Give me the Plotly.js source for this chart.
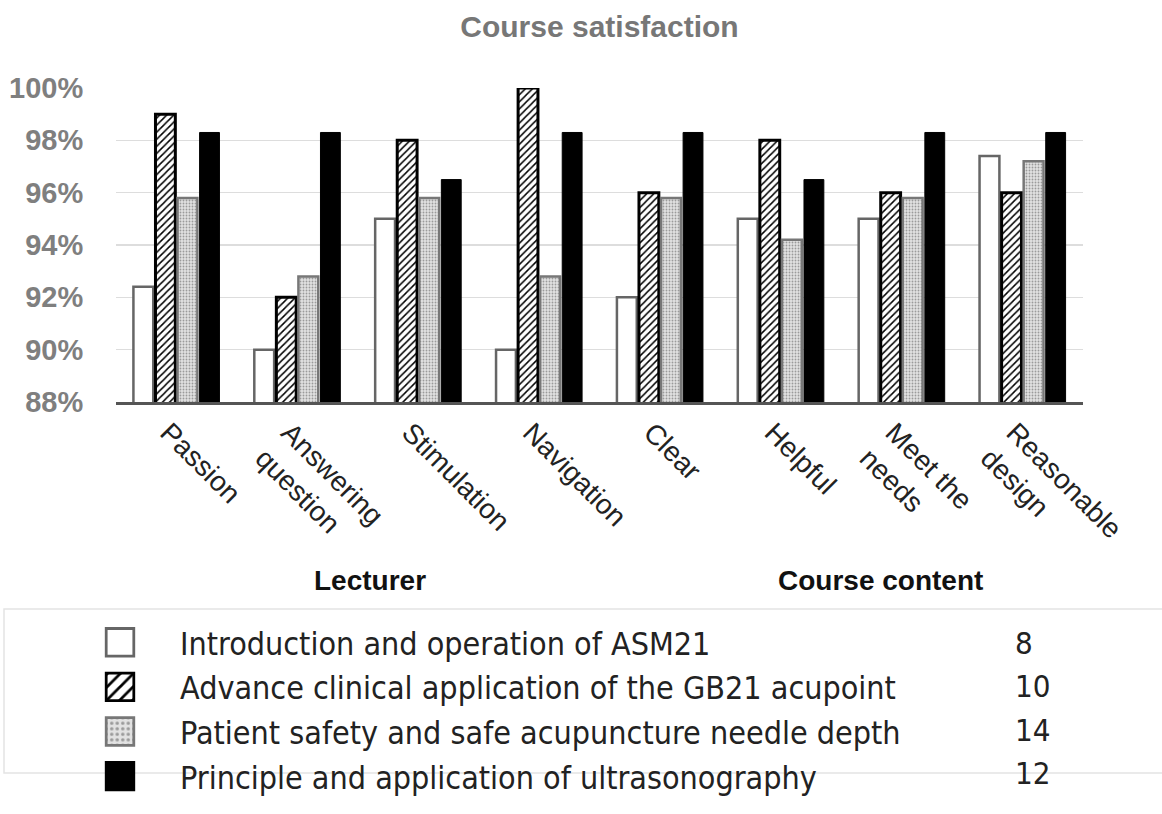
<!DOCTYPE html>
<html>
<head>
<meta charset="utf-8">
<script src="https://cdn.plot.ly/plotly-3.0.1.min.js"></script>
<style>
html,body{margin:0;padding:0;background:#fff;}
#chart{width:1162px;height:814px;}
</style>
</head>
<body>
<div id="chart"></div>
<script>
// ---- data ----
const categories = ["Passion", "Answering<br>question", "Stimulation", "Navigation",
                    "Clear", "Helpful", "Meet the<br>needs", "Reasonable<br>design"];
const seriesNames = [
  "Introduction and operation of ASM21",
  "Advance clinical application of the GB21 acupoint",
  "Patient safety and safe acupuncture needle depth",
  "Principle and application of ultrasonography"
];
const sessionCounts = ["8", "10", "14", "12"];
const introASM21      = [92.4, 90.0, 95.0, 90.0, 92.0, 95.0, 95.0, 97.4];
const advanceGB21     = [99.0, 92.0, 98.0, 100.0, 96.0, 98.0, 96.0, 96.0];
const patientSafety   = [95.8, 92.8, 95.8, 92.8, 95.8, 94.2, 95.8, 97.2];
const ultrasonography = [98.3, 98.3, 96.5, 98.3, 98.3, 96.5, 98.3, 98.3];
const groupLabels = ["Lecturer", "Course content"];
const chartTitle = "Course satisfaction";

// ---- traces ----
const values = [introASM21, advanceGB21, patientSafety, ultrasonography];
const markers = [
  {color: "#ffffff", line: {color: "#666666", width: 2.5}},
  {color: "#ffffff", line: {color: "#000000", width: 3},
   pattern: {shape: "/", fgcolor: "#000000", bgcolor: "#ffffff", size: 5, solidity: 0.3}},
  {color: "#dcdcdc", line: {color: "#777777", width: 2.5},
   pattern: {shape: ".", fgcolor: "#9a9a9a", bgcolor: "#e2e2e2", size: 3, solidity: 0.3}},
  {color: "#000000", line: {color: "#000000", width: 1}}
];
const traces = values.map((v, i) => ({
  type: "bar",
  name: seriesNames[i],
  x: categories,
  y: v,
  marker: markers[i],
  hoverinfo: "none"
}));

const legendFont = {family: "Liberation Sans Narrow, DejaVu Sans Condensed, Arial Narrow, Liberation Sans, sans-serif", size: 32, color: "#222"};
const rowY = [-0.7675, -0.9045, -1.0446, -1.1815];

const annotations = [
  {text: groupLabels[0], x: (370 - 116) / 967, y: (402 - 580) / 314},
  {text: groupLabels[1], x: (880 - 116) / 967, y: (402 - 580) / 314}
].map(a => Object.assign(a, {xref: "paper", yref: "paper", showarrow: false,
  xanchor: "center", yanchor: "middle",
  font: {family: "Liberation Sans, Arial, sans-serif", size: 28, color: "#111", weight: "bold"}}));

sessionCounts.forEach((c, i) => annotations.push({
  text: c, xref: "paper", yref: "paper", x: (1013 - 116) / 967, y: rowY[i],
  xanchor: "left", yanchor: "middle", showarrow: false,
  font: Object.assign({}, legendFont, {size: 31})
}));

const layout = {
  width: 1162, height: 814,
  margin: {l: 116, r: 79, t: 88, b: 412, autoexpand: false},
  paper_bgcolor: "#ffffff", plot_bgcolor: "#ffffff",
  title: {text: chartTitle, x: 0.5, xref: "paper", xanchor: "center",
          y: 1 - 26 / 814, yref: "container", yanchor: "middle",
          font: {family: "Liberation Sans, Arial, sans-serif", size: 30, color: "#777777", weight: "bold"}},
  barmode: "group", bargap: 0.27, bargroupgap: 0.1,
  xaxis: {
    type: "category", tickangle: 45, showgrid: false,
    showline: true, linecolor: "#555555", linewidth: 3,
    ticks: "", fixedrange: true, ticklabelshift: -8,
    tickfont: {family: "Liberation Sans, Arial, sans-serif", size: 28, color: "#222"}
  },
  yaxis: {
    range: [88, 100], dtick: 2, ticksuffix: "%", tickformat: "d",
    showgrid: true, gridcolor: "#dddddd", gridwidth: 1.5,
    zeroline: false, showline: false,
    ticks: "outside", ticklen: 26, tickcolor: "rgba(0,0,0,0)",
    tickfont: {family: "Liberation Sans, Arial, sans-serif", size: 29, color: "#7f7f7f", weight: "bold"},
    fixedrange: true
  },
  showlegend: true,
  legend: {
    x: (96 - 116) / 967, xanchor: "left", xref: "paper",
    y: (402 - 615) / 314, yanchor: "top", yref: "paper",
    orientation: "v", traceorder: "normal",
    font: legendFont, itemwidth: 74, bgcolor: "rgba(0,0,0,0)",
    itemclick: false, itemdoubleclick: false
  },
  annotations: annotations,
  shapes: [
    {type: "rect", xref: "paper", yref: "paper",
     x0: (4 - 116) / 967, x1: (1175 - 116) / 967,
     y0: (402 - 773) / 314, y1: (402 - 609) / 314,
     line: {color: "#e4e4e4", width: 1.5}, fillcolor: "rgba(0,0,0,0)", layer: "below"}
  ]
};

// enlarge legend swatches (idempotent: uses parent transform and local bbox only)
function enlargeSwatches(gd) {
  gd.querySelectorAll(".legend [clip-path]").forEach(e => e.removeAttribute("clip-path"));
  const s = 2.3, targetX = 120;
  gd.querySelectorAll(".legend .legendpoints path").forEach(p => {
    const m = p.parentNode.getCTM();
    const bb = p.getBBox();
    const lc = bb.x + bb.width / 2;
    const d = (targetX - m.e) / m.a - s * lc;
    p.setAttribute("transform", "translate(" + d + ",0) scale(" + s + ")");
    p.style.strokeWidth = "1.2px";
  });
}

Plotly.newPlot("chart", traces, layout, {staticPlot: true, displayModeBar: false}).then(gd => {
  enlargeSwatches(gd);
  gd.on("plotly_afterplot", () => enlargeSwatches(gd));
  setTimeout(() => enlargeSwatches(gd), 50);
});
</script>
</body>
</html>
